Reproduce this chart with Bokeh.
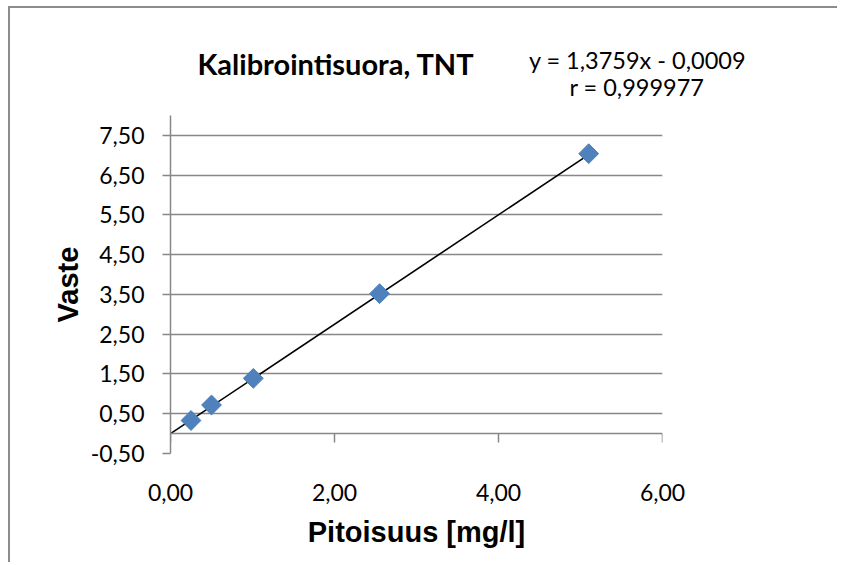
from bokeh.plotting import figure
from bokeh.models import (Range1d, FixedTicker, CustomJSTickFormatter, LinearAxis, Label)
from bokeh.embed import file_html
from bokeh.resources import INLINE

# ---- data ----
conc = [0.25, 0.50, 1.01, 2.55, 5.10]          # Pitoisuus [mg/l]
response = [0.33, 0.72, 1.39, 3.52, 7.04]      # Vaste
slope = 1.3759
intercept = -0.0009
r_value = "0,999977"
x_ticks = [0, 2, 4, 6]
y_ticks = [-0.5, 0.5, 1.5, 2.5, 3.5, 4.5, 5.5, 6.5, 7.5]
title_text = "Kalibrointisuora, TNT"
eq_text = "y = 1,3759x - 0,0009"
r_text = "r = " + r_value
x_title = "Pitoisuus [mg/l]"
y_title = "Vaste"

GRAY = "#878787"
TICK_FONT = "Lato"

p = figure(width=832, height=556, output_backend="svg", toolbar_location=None,
           title=None, x_range=Range1d(0, 6), y_range=Range1d(-0.5, 8.0),
           min_border_left=160, min_border_top=107, min_border_right=180,
           min_border_bottom=111)
p.styles = {"margin-top": "6px", "margin-left": "8px",
            "clip-path": "inset(0px 3px 0px 0px)",
            "border-top": "2px solid #8c8c8c", "border-left": "2px solid #8c8c8c"}
p.outline_line_color = None
p.background_fill_color = "white"
p.border_fill_color = "white"
p.xgrid.grid_line_color = None

fmt = CustomJSTickFormatter(code="return tick.toFixed(2).replace('.', ',')")

# x axis (labels at the bottom, no line)
xa = p.xaxis[0]
xa.ticker = FixedTicker(ticks=x_ticks)
xa.formatter = fmt
xa.axis_line_color = None
xa.major_tick_out = 0
xa.major_tick_in = 0
xa.minor_tick_out = 0
xa.minor_tick_in = 0
xa.major_label_standoff = 30
xa.major_label_text_font = TICK_FONT
xa.major_label_text_font_size = "23px"
xa.major_label_text_color = "black"
xa.axis_label = x_title
xa.axis_label_text_font = "Liberation Sans"
xa.axis_label_text_font_style = "bold"
xa.axis_label_text_font_size = "29px"
xa.axis_label_text_color = "black"
xa.axis_label_standoff = 12

# x axis line crossing at y = 0, ticks pointing down
x0 = LinearAxis(fixed_location=0, ticker=FixedTicker(ticks=x_ticks),
                formatter=CustomJSTickFormatter(code="return ''"))
x0.axis_line_color = GRAY
x0.axis_line_width = 1.5
x0.major_tick_line_color = GRAY
x0.major_tick_line_width = 1.5
x0.major_tick_out = 0
x0.major_tick_in = 9
x0.minor_tick_out = 0
x0.minor_tick_in = 0
x0.major_label_standoff = 0
x0.major_label_text_font_size = "1px"
p.add_layout(x0, "above")

# y axis
ya = p.yaxis[0]
ya.ticker = FixedTicker(ticks=y_ticks)
ya.formatter = fmt
ya.axis_line_color = GRAY
ya.axis_line_width = 1.5
ya.major_tick_line_color = GRAY
ya.major_tick_line_width = 1.5
ya.major_tick_out = 8
ya.major_tick_in = 0
ya.minor_tick_out = 0
ya.minor_tick_in = 0
ya.major_label_standoff = 18
ya.major_label_text_font = TICK_FONT
ya.major_label_text_font_size = "23px"
ya.major_label_text_color = "black"
ya.axis_label = y_title
ya.axis_label_text_font = "Liberation Sans"
ya.axis_label_text_font_style = "bold"
ya.axis_label_text_font_size = "29px"
ya.axis_label_text_color = "black"
ya.axis_label_standoff = 4

p.ygrid.ticker = FixedTicker(ticks=y_ticks)
p.ygrid.grid_line_color = GRAY
p.ygrid.grid_line_width = 1.5

# trend line
tx = [0, max(conc)]
ty = [slope * v + intercept for v in tx]
p.line(tx, ty, line_color="black", line_width=1.6)

# data points
p.scatter(conc, response, marker="square", angle=0.785398, size=14,
          fill_color="#4F81BD", line_color="#4A7EBB")

# texts above the plot area
p.add_layout(Label(x=2.018, y=9.30, text=title_text, text_align="center",
                   text_baseline="alphabetic", text_font="Lato",
                   text_font_style="bold", text_font_size="29px", text_color="black"), "above")
p.add_layout(Label(x=5.695, y=9.39, text=eq_text, text_align="center",
                   text_baseline="alphabetic", text_font=TICK_FONT,
                   text_font_size="23.5px", text_color="black"), "above")
p.add_layout(Label(x=5.689, y=8.71, text=r_text, text_align="center",
                   text_baseline="alphabetic", text_font=TICK_FONT,
                   text_font_size="23.5px", text_color="black"), "above")

open("out.html", "w").write(file_html(p, INLINE))
